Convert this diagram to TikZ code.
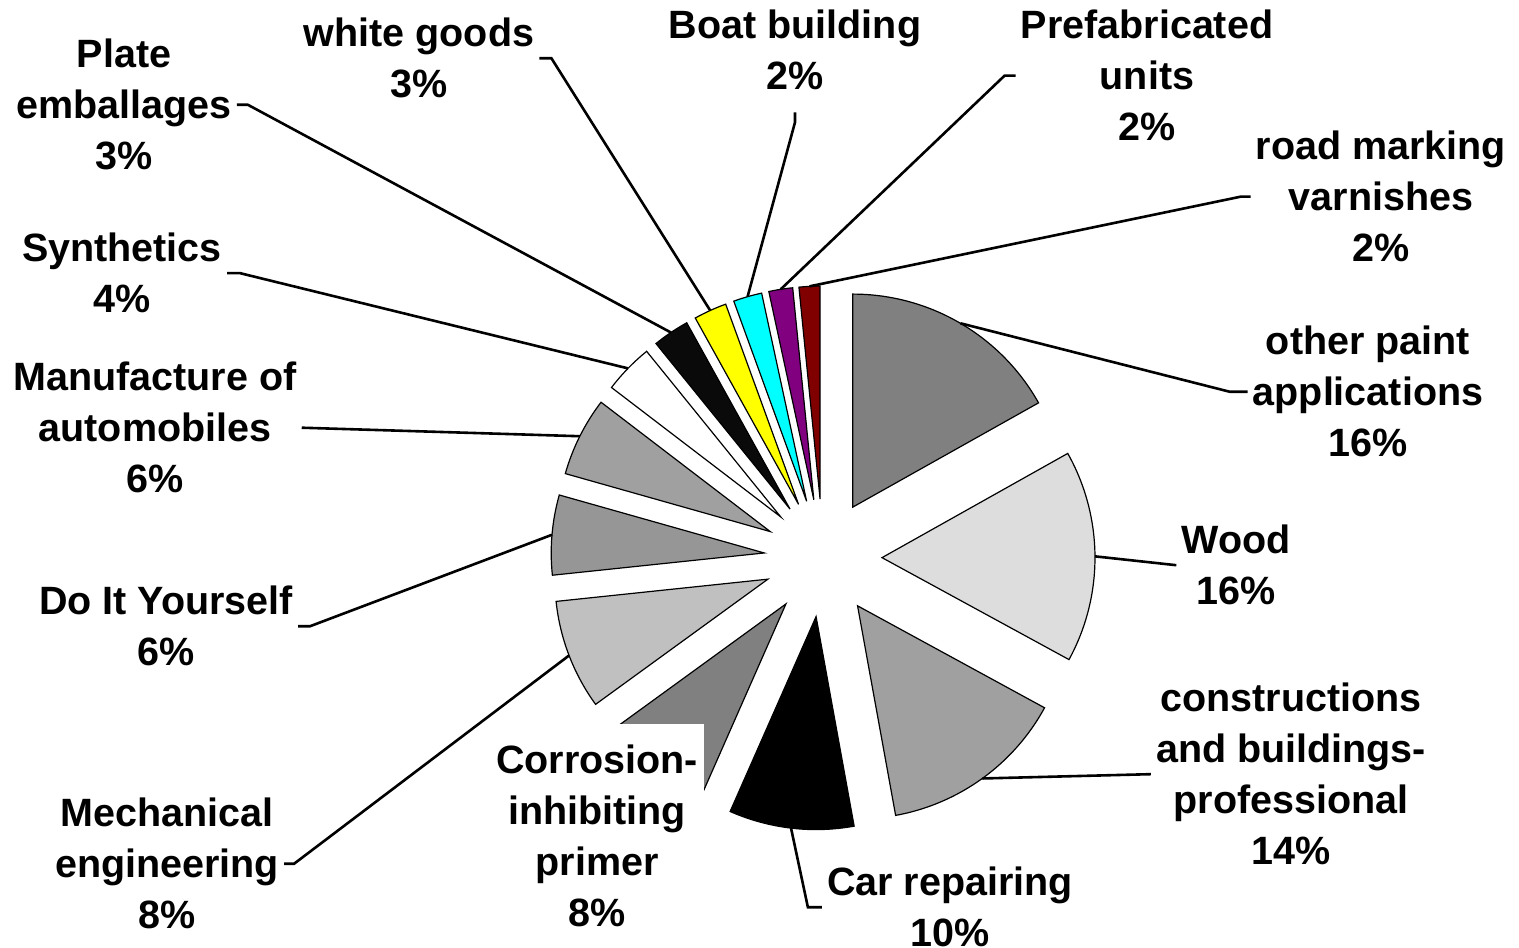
\documentclass[tikz,border=0pt]{standalone}
\usepackage{fontspec}
\setmainfont{Liberation Sans}
\usepackage{tikz}
\usetikzlibrary{calc}
\definecolor{sgOther}{HTML}{808080}
\definecolor{sgWood}{HTML}{DDDDDD}
\definecolor{sgBuild}{HTML}{A0A0A0}
\definecolor{sgCorr}{HTML}{808080}
\definecolor{sgMech}{HTML}{C0C0C0}
\definecolor{sgDiy}{HTML}{969696}
\definecolor{sgAuto}{HTML}{A0A0A0}
\definecolor{sgPlate}{HTML}{0A0A0A}
\definecolor{sgWhite}{HTML}{FFFF00}
\definecolor{sgBoat}{HTML}{00FFFF}
\definecolor{sgPrefab}{HTML}{800080}
\definecolor{sgRoad}{HTML}{800000}
\newcommand\labfont{\fontsize{39.5}{51}\selectfont\bfseries}
\tikzset{
  lab/.style={font=\labfont, align=center, anchor=north, inner xsep=5pt, inner ysep=0pt},
  slice/.style={draw=black, line width=1.2pt},
  lead/.style={draw=black, line width=2.6pt},
}

\begin{document}
\begin{tikzpicture}[x=1pt, y=-1pt]
\fill[white] (0,0) rectangle (1519,948);
\useasboundingbox (0,0) rectangle (1519,948);
\coordinate (ctr) at (823,558);
% exploded slices, clockwise from twelve o'clock
\foreach \a/\b/\col/\n in {90/29.3/sgOther/other, 29.3/-28.6/sgWood/wood, -28.6/-79.7/sgBuild/constr,
  -79.7/-113.8/black/car, -113.8/-144/sgCorr/corr, -144/-174/sgMech/mech, -174/-195.8/sgDiy/diy,
  -195.8/-217.4/sgAuto/manuf, -217.4/-231/white/synth, -231/-241/sgPlate/plate,
  -241/-250/sgWhite/wgoods, -250/-257.8/sgBoat/boat, -257.8/-264.3/sgPrefab/prefab,
  -264.3/-270/sgRoad/road} {
  \pgfmathsetmacro\m{(\a+\b)/2}
  \filldraw[slice, fill=\col] ($(ctr)+({-(\m)}:59)$) -- ++({-(\a)}:213)
    arc[start angle={-(\a)}, end angle={-(\b)}, radius=213] -- cycle;
  \coordinate (s-\n) at ($(ctr)+({-(\m)}:272)$);
}
% labels
\node[lab] (other) at (1368,326) {other paint\\applications\\16\%};
\node[lab] (wood) at (1236,525) {Wood\\16\%};
\node[lab] (constr) at (1291,683) {constructions\\and buildings-\\professional\\14\%};
\node[lab] (car) at (950,867) {Car repairing\\10\%};
\node[lab, fill=white, inner xsep=6pt, inner ysep=21pt] (corr) at (597,724) {Corrosion-\\inhibiting\\primer\\8\%};
\node[lab] (mech) at (167,798) {Mechanical\\engineering\\8\%};
\node[lab] (diy) at (166,586) {Do It Yourself\\6\%};
\node[lab] (manuf) at (155,362) {Manufacture of\\automobiles\\6\%};
\node[lab] (synth) at (122,233) {Synthetics\\4\%};
\node[lab] (plate) at (124,39) {Plate\\emballages\\3\%};
\node[lab] (wgoods) at (419,18) {white goods\\3\%};
\node[lab] (boat) at (795,10) {Boat building\\2\%};
\node[lab] (prefab) at (1147,10) {Prefabricated\\units\\2\%};
\node[lab] (road) at (1381,131) {road marking\\varnishes\\2\%};
% leader lines
\foreach \n/\side/\off in {other/west/-18pt, prefab/west/-11pt, road/west/-10pt, car/west/-14pt,
  mech/east/10pt, diy/east/12pt, synth/east/13pt, plate/east/11pt, wgoods/east/12pt}
  \draw[lead] (s-\n) -- ([xshift=\off]\n.\side) -- (\n.\side);
\foreach \n/\side in {wood/west, constr/west, manuf/east} \draw[lead] (s-\n) -- (\n.\side);
\draw[lead] (s-boat) -- ([yshift=-32pt]boat.south) -- ([yshift=-22pt]boat.south);
\end{tikzpicture}
\end{document}
